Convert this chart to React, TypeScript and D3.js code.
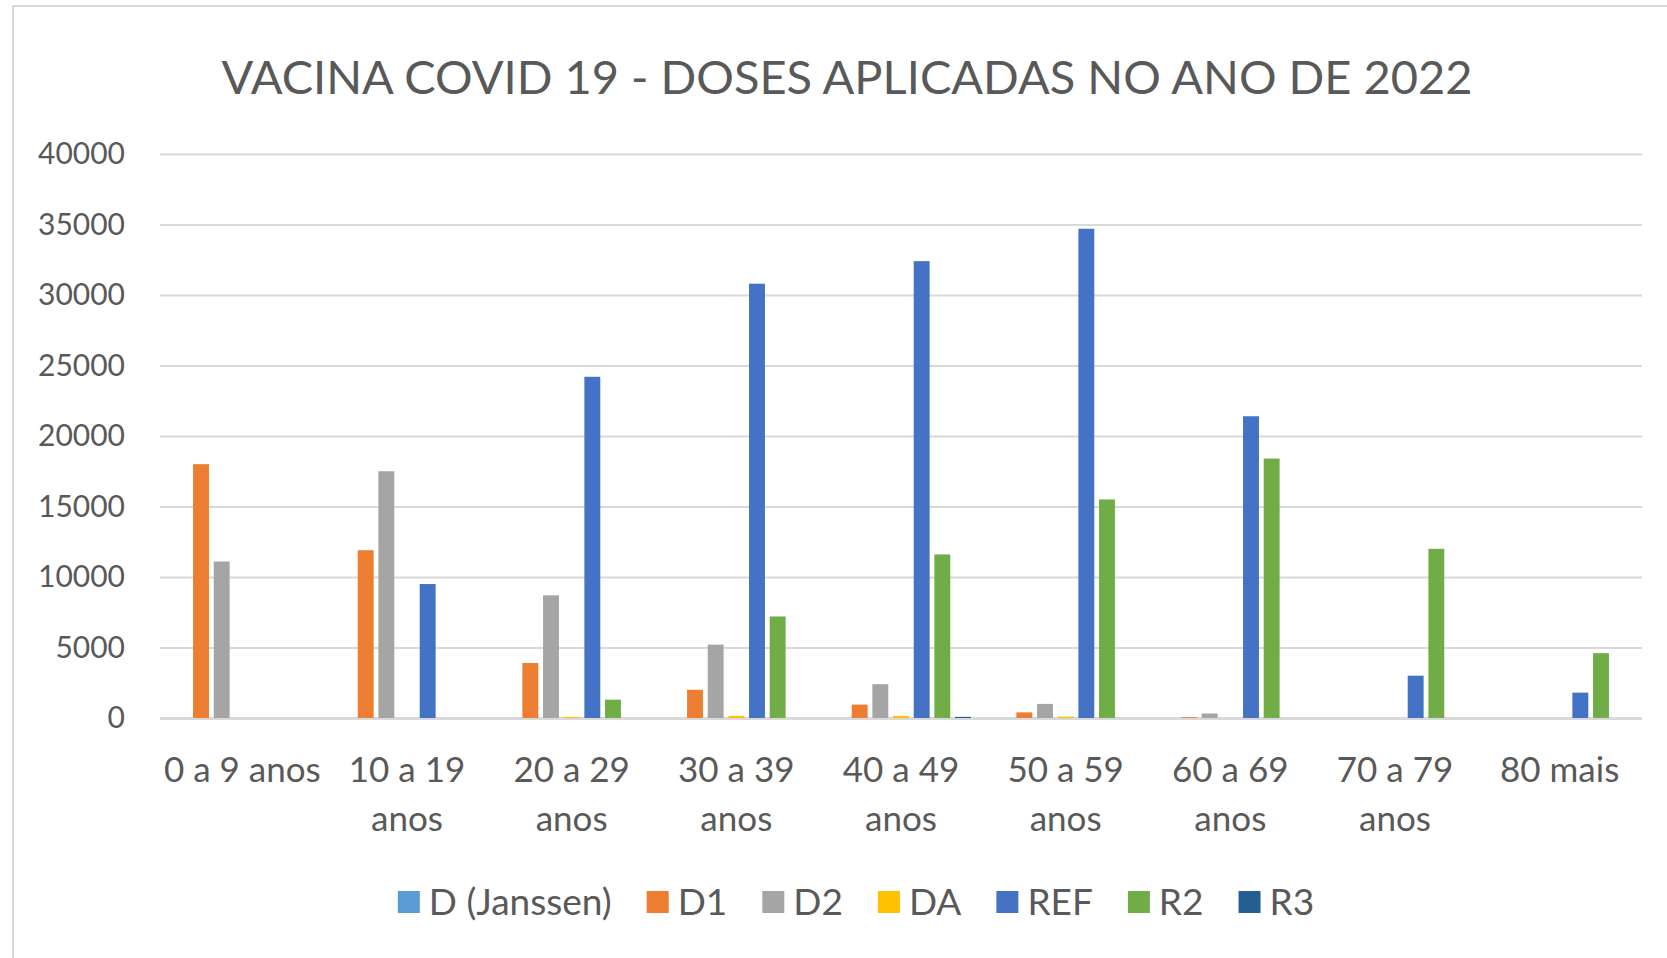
import React, { useRef, useEffect } from 'react';
import * as d3 from 'd3';

const categories = ['0 a 9 anos', '10 a 19 anos', '20 a 29 anos', '30 a 39 anos', '40 a 49 anos', '50 a 59 anos', '60 a 69 anos', '70 a 79 anos', '80 mais'];
const seriesNames = ['D (Janssen)', 'D1', 'D2', 'DA', 'REF', 'R2', 'R3'];
const seriesColors = ['#5B9BD5', '#ED7D31', '#A5A5A5', '#FFC000', '#4472C4', '#70AD47', '#255E91'];

// one array per series, same order as categories
const dJanssen = [0, 0, 0, 0, 0, 0, 0, 0, 0];
const d1 = [18000, 11900, 3900, 2000, 950, 400, 60, 0, 0];
const d2 = [11100, 17500, 8700, 5200, 2400, 1000, 320, 0, 0];
const dA = [0, 0, 80, 150, 150, 100, 0, 0, 0];
const ref = [0, 9500, 24200, 30800, 32400, 34700, 21400, 3000, 1800];
const r2 = [0, 0, 1300, 7200, 11600, 15500, 18400, 12000, 4600];
const r3 = [0, 0, 0, 0, 80, 0, 0, 0, 0];

const yTicks = [0, 5000, 10000, 15000, 20000, 25000, 30000, 35000, 40000];
const title = 'VACINA COVID 19 - DOSES APLICADAS NO ANO DE 2022';

export default function App() {
  const svgRef = useRef<SVGSVGElement>(null);

  useEffect(() => {
    const width = 1667;
    const height = 958;
    const marginTop = 154;
    const marginBottom = 240;
    const marginLeft = 160;
    const marginRight = 25;
    const font = 'Lato, "Open Sans", sans-serif';
    const textColor = '#595959';

    const values = [dJanssen, d1, d2, dA, ref, r2, r3];
    const rows = categories.map((c, i) => ({
      category: c,
      bars: seriesNames.map((s, j) => ({ series: s, value: values[j][i] }))
    }));

    const x0 = d3.scaleBand()
      .domain(categories)
      .range([marginLeft, width - marginRight])
      .padding(0);

    const x1 = d3.scaleBand()
      .domain(seriesNames)
      .range([0, x0.bandwidth()])
      .paddingInner(0.23)
      .paddingOuter(0.6);

    const y = d3.scaleLinear()
      .domain([0, 40000])
      .range([height - marginBottom, marginTop]);

    const color = d3.scaleOrdinal<string, string>()
      .domain(seriesNames)
      .range(seriesColors);

    const svg = d3.select(svgRef.current);
    svg.selectAll('*').remove();
    svg.attr('width', width).attr('height', height).attr('viewBox', [0, 0, width, height]);

    svg.append('rect').attr('width', width).attr('height', height).attr('fill', '#fff');

    // chart frame (top and left edges visible)
    svg.append('path')
      .attr('d', `M13,${height}V6H${width}`)
      .attr('fill', 'none')
      .attr('stroke', '#D9D9D9')
      .attr('stroke-width', 2);

    // title
    svg.append('text')
      .attr('x', 847)
      .attr('y', 94)
      .attr('text-anchor', 'middle')
      .attr('font-family', font)
      .attr('font-size', 47)
      .attr('fill', textColor)
      .text(title);

    // gridlines + y labels
    const yAxis = svg.append('g')
      .attr('transform', `translate(${marginLeft},0)`)
      .call(d3.axisLeft(y).tickValues(yTicks).tickSize(-(width - marginLeft - marginRight)).tickPadding(35).tickFormat(d => String(d)))
      .call(g => g.select('.domain').remove());
    yAxis.selectAll('.tick line')
      .attr('stroke', '#D9D9D9')
      .attr('stroke-width', (d: any) => d === 0 ? 3 : 2);
    yAxis.selectAll('.tick text')
      .attr('font-family', font)
      .attr('font-size', 30)
      .attr('fill', textColor);

    // bars
    svg.append('g')
      .selectAll('g')
      .data(rows)
      .join('g')
        .attr('transform', d => `translate(${x0(d.category)},0)`)
      .selectAll('rect')
      .data(d => d.bars.filter(b => b.value > 0))
      .join('rect')
        .attr('x', d => x1(d.series)!)
        .attr('y', d => y(d.value))
        .attr('width', x1.bandwidth())
        .attr('height', d => y(0) - y(d.value))
        .attr('fill', d => color(d.series));

    // x labels, wrapped before the last word when too long
    const xLabels = svg.append('g')
      .attr('font-family', font)
      .attr('font-size', 35)
      .attr('fill', textColor)
      .attr('text-anchor', 'middle');
    categories.forEach(c => {
      const cx = x0(c)! + x0.bandwidth() / 2;
      const lines = c.length > 10
        ? [c.slice(0, c.lastIndexOf(' ')), c.slice(c.lastIndexOf(' ') + 1)]
        : [c];
      const t = xLabels.append('text').attr('x', cx).attr('y', 782);
      lines.forEach((l, i) => {
        t.append('tspan').attr('x', cx).attr('dy', i === 0 ? 0 : 49).text(l);
      });
    });

    // legend
    const legend = svg.append('g')
      .attr('font-family', font)
      .attr('font-size', 37)
      .attr('fill', textColor);
    const items = legend.selectAll('g')
      .data(seriesNames)
      .join('g');
    items.append('rect')
      .attr('width', 22)
      .attr('height', 22)
      .attr('y', -11)
      .attr('fill', d => color(d));
    items.append('text')
      .attr('x', 31)
      .attr('dy', '0.35em')
      .text(d => d);
    let offset = 0;
    const gap = 35;
    items.each(function () {
      const g = d3.select(this);
      g.attr('transform', `translate(${offset},0)`);
      const w = (g.select('text').node() as SVGTextElement).getComputedTextLength();
      offset += 31 + w + gap;
    });
    const total = offset - gap;
    legend.attr('transform', `translate(${856 - total / 2},902)`);
  }, []);

  return (
    <div style={{ position: 'absolute', left: 0, top: 0 }}>
      <svg ref={svgRef} style={{ display: 'block' }}></svg>
    </div>
  );
}
